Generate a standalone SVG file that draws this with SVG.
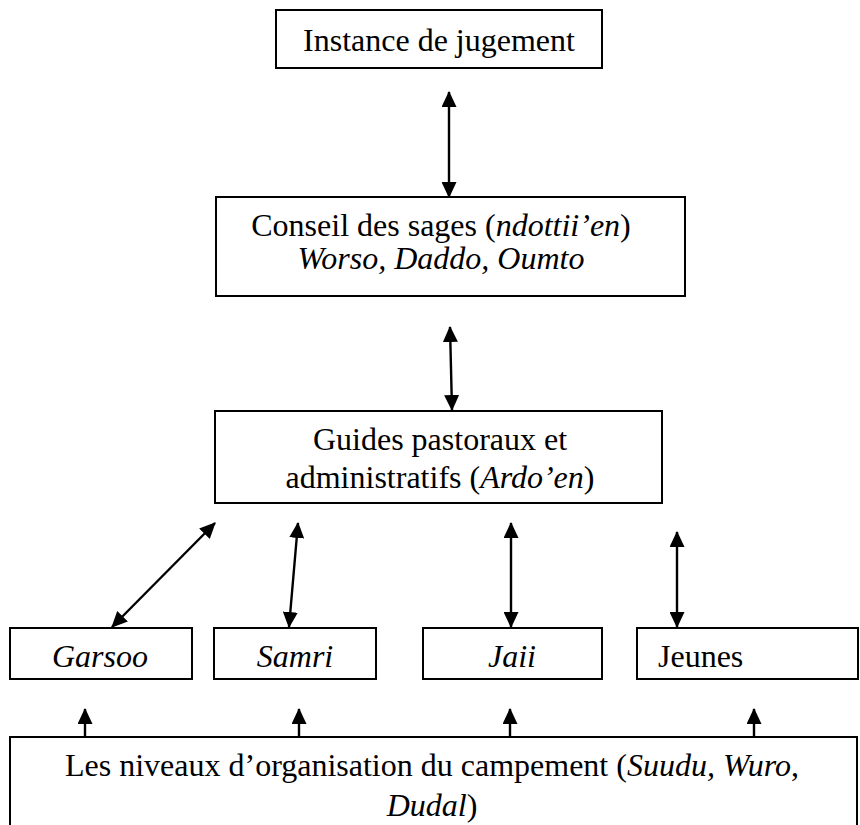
<svg xmlns="http://www.w3.org/2000/svg" width="860" height="825" viewBox="0 0 860 825">
<style>
.box{fill:#fff;stroke:#000;stroke-width:2}
.t{font-family:"Liberation Serif","Times New Roman",serif;font-size:32px;fill:#000}
.m{text-anchor:middle}
.i{font-style:italic}
.c{stroke:#000;stroke-width:2.4;fill:none}
</style>
<defs>
<marker id="ah" viewBox="0 0 16 15" refX="15" refY="7.5" markerWidth="16" markerHeight="15" markerUnits="userSpaceOnUse" orient="auto-start-reverse">
<path d="M0,0 L16,7.5 L0,15 z" fill="#000"/>
</marker>
</defs>
<rect width="860" height="825" fill="#fff"/>
<g id="instance">
<rect class="box" x="276" y="10" width="326" height="58"/>
<text class="t m" x="439" y="51">Instance de jugement</text>
</g>
<g id="conseil">
<rect class="box" x="216" y="197" width="469" height="99"/>
<text class="t m" x="441" y="236">Conseil des sages (<tspan class="i">ndottii’en</tspan>)</text>
<text class="t m i" x="441" y="269">Worso, Daddo, Oumto</text>
</g>
<g id="guides">
<rect class="box" x="215" y="411" width="447" height="92"/>
<text class="t m" x="440" y="450">Guides pastoraux et</text>
<text class="t m" x="440" y="488">administratifs (<tspan class="i">Ardo’en</tspan>)</text>
</g>
<g id="garsoo">
<rect class="box" x="10" y="628" width="182" height="51"/>
<text class="t m i" x="100" y="667">Garsoo</text>
</g>
<g id="samri">
<rect class="box" x="214" y="628" width="162" height="51"/>
<text class="t m i" x="295" y="667">Samri</text>
</g>
<g id="jaii">
<rect class="box" x="423" y="628" width="179" height="51"/>
<text class="t m i" x="512" y="667">Jaii</text>
</g>
<g id="jeunes">
<rect class="box" x="637" y="628" width="221" height="51"/>
<text class="t" x="658" y="667">Jeunes</text>
</g>
<g id="niveaux">
<rect class="box" x="10" y="737" width="847" height="100"/>
<text class="t m" x="432" y="776">Les niveaux d’organisation du campement (<tspan class="i">Suudu, Wuro</tspan>,</text>
<text class="t m" x="432" y="816"><tspan class="i">Dudal</tspan>)</text>
</g>
<g id="connectors">
<line class="c" x1="449" y1="92" x2="449" y2="197" marker-start="url(#ah)" marker-end="url(#ah)"/>
<line class="c" x1="450" y1="327" x2="452" y2="410" marker-start="url(#ah)" marker-end="url(#ah)"/>
<line class="c" x1="215" y1="523" x2="112" y2="627" marker-start="url(#ah)" marker-end="url(#ah)"/>
<line class="c" x1="298" y1="523" x2="289" y2="627" marker-start="url(#ah)" marker-end="url(#ah)"/>
<line class="c" x1="511" y1="523" x2="511" y2="627" marker-start="url(#ah)" marker-end="url(#ah)"/>
<line class="c" x1="677" y1="532" x2="677" y2="627" marker-start="url(#ah)" marker-end="url(#ah)"/>
<line class="c" x1="85" y1="736" x2="85" y2="709" marker-end="url(#ah)"/>
<line class="c" x1="299" y1="736" x2="299" y2="709" marker-end="url(#ah)"/>
<line class="c" x1="510" y1="736" x2="510" y2="709" marker-end="url(#ah)"/>
<line class="c" x1="754" y1="736" x2="754" y2="709" marker-end="url(#ah)"/>
</g>
</svg>
